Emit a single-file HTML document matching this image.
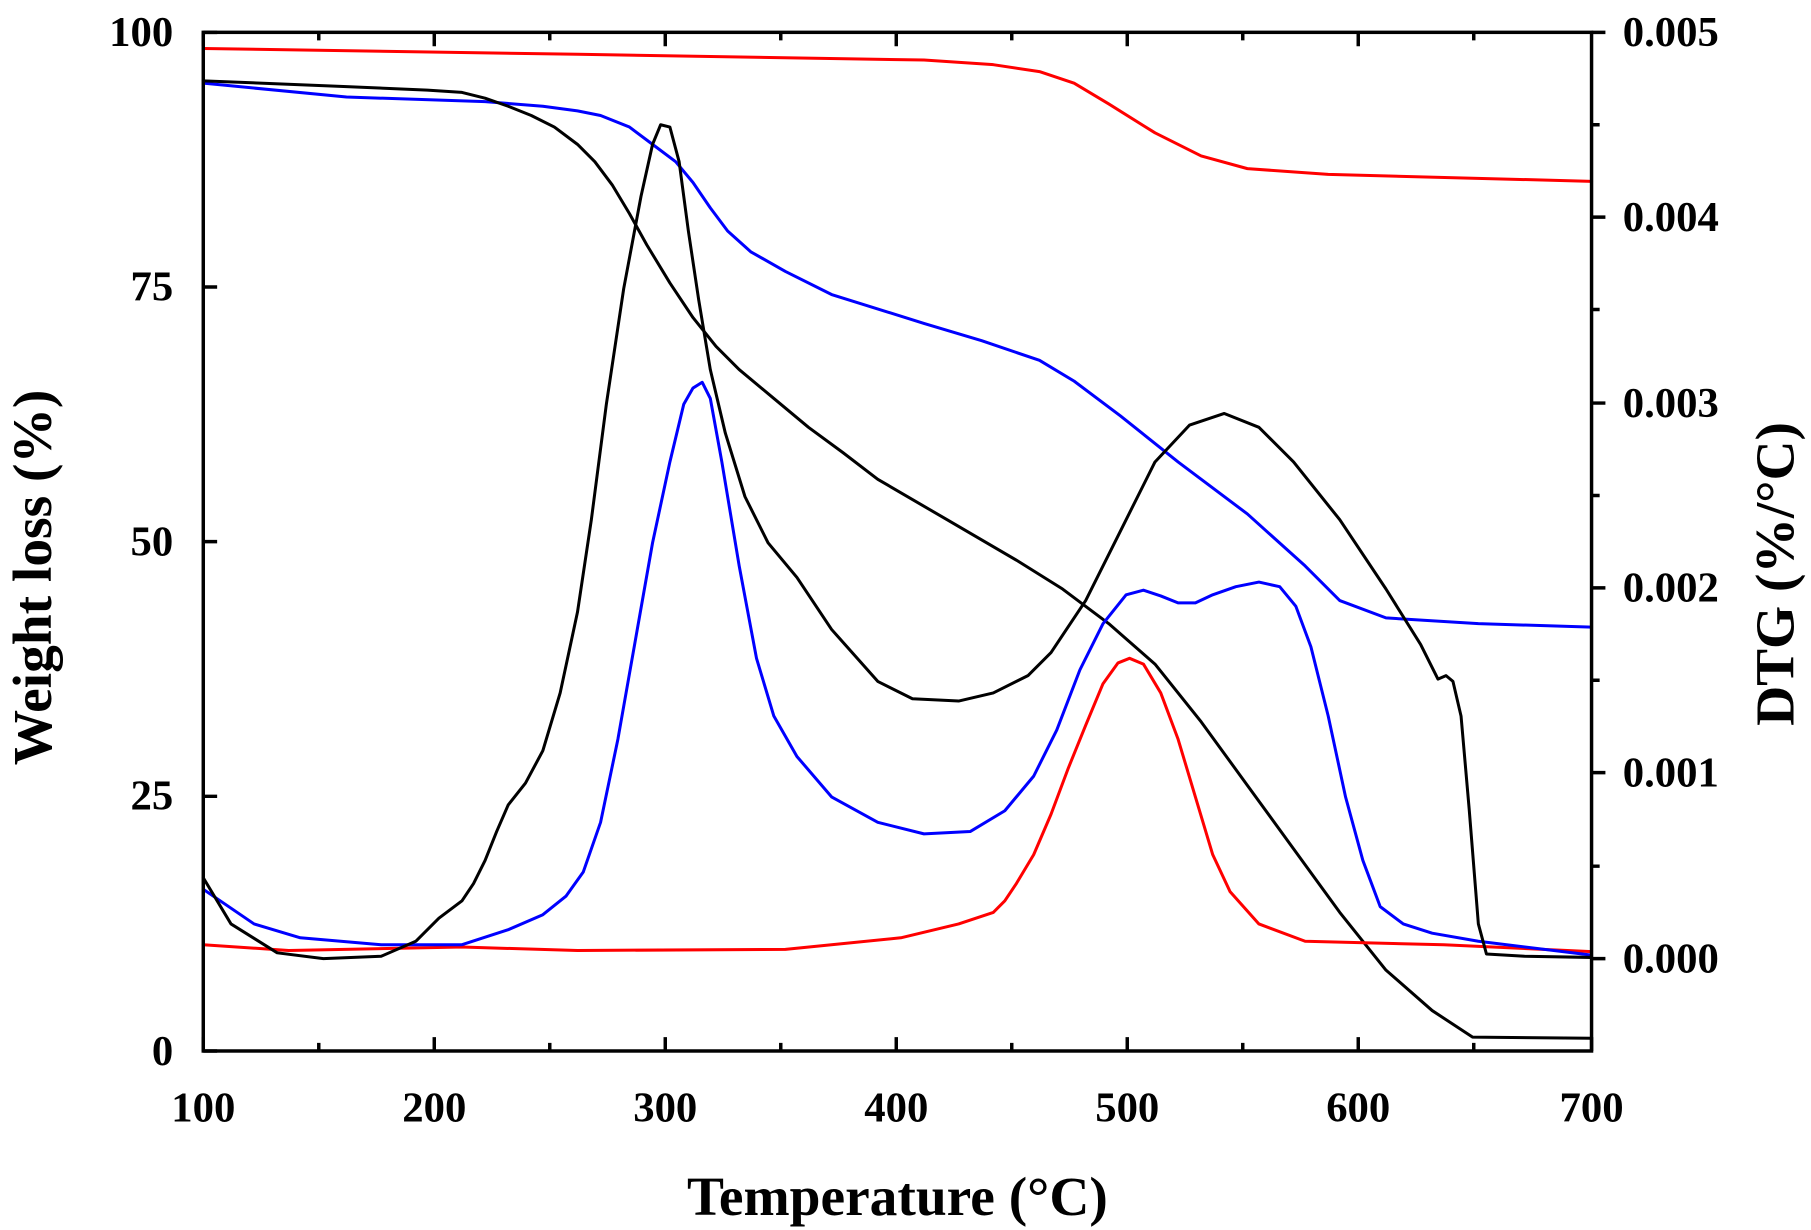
<!DOCTYPE html>
<html><head><meta charset="utf-8"><style>html,body{margin:0;padding:0;background:#fff;}svg{display:block}</style></head>
<body>
<svg width="1811" height="1230" viewBox="0 0 1568 1065" preserveAspectRatio="none" xmlns="http://www.w3.org/2000/svg" font-family="Liberation Serif, serif" font-weight="bold">
<rect x="0" y="0" width="1568" height="1065" fill="#fff"/>
<g fill="none" stroke-width="2.6" stroke-linejoin="round" stroke-linecap="round">
<polyline stroke="#ff0000" points="176,42 500,47 800,52 860,56 900,62 930,72 960,90 1000,115 1040,135 1080,146 1150,151 1378,157"/>
<polyline stroke="#0000ff" points="176,72 300,84 420,88 470,92 500,96 520,100 545,110 565,125 585,140 600,158 615,180 630,200 650,218 680,235 720,255 800,280 850,295 900,312 930,330 970,360 1020,400 1080,445 1130,490 1160,520 1200,535 1280,540 1378,543"/>
<polyline stroke="#000" points="176,70 300,75 370,78 400,80 420,85 440,92 460,100 480,110 500,125 515,140 530,160 545,185 560,212 580,245 600,275 620,300 640,320 670,345 700,370 730,392 760,415 820,450 880,485 920,510 960,540 1000,575 1040,625 1080,680 1120,735 1160,790 1200,840 1240,875 1275,898 1378,899"/>
<polyline stroke="#ff0000" points="176,818 250,823 400,820 500,823 680,822 780,812 830,800 860,790 870,780 880,765 895,740 910,705 925,665 940,628 955,592 968,574 978,570 990,575 1005,600 1020,640 1035,690 1050,740 1065,772 1090,800 1130,815 1250,818 1378,824"/>
<polyline stroke="#0000ff" points="176,770 220,800 260,812 330,818 400,818 440,805 470,792 490,776 505,755 520,712 535,640 550,555 565,470 580,400 592,350 600,336 608,331 615,345 625,400 640,490 655,570 670,620 690,655 720,690 760,712 800,722 840,720 870,702 895,672 915,632 935,580 955,540 975,515 990,511 1005,516 1020,522 1035,522 1050,515 1070,508 1090,504 1108,508 1122,525 1135,560 1150,620 1165,690 1180,745 1195,785 1215,800 1240,808 1280,815 1378,827"/>
<polyline stroke="#000" points="176,760 200,800 240,825 280,830 330,828 360,815 380,795 400,780 410,765 420,745 430,720 440,697 455,678 470,650 485,600 500,530 512,450 525,350 540,250 555,170 565,125 572,108 580,110 588,140 596,200 605,260 615,320 628,375 645,430 665,470 690,500 720,545 760,590 790,605 830,607 860,600 890,585 910,565 940,520 970,460 1000,400 1030,368 1060,358 1090,370 1120,400 1160,450 1200,510 1230,558 1245,588 1252,585 1258,590 1265,620 1272,700 1280,800 1287,826 1320,828 1378,829"/>
</g>
<g stroke="#000" stroke-width="3" fill="none">
<rect x="176" y="28" width="1202" height="882"/>
<path d="M176,910v-12M276,910v-7M376,910v-12M476,910v-7M576,910v-12M676,910v-7M776,910v-12M876,910v-7M976,910v-12M1076,910v-7M1176,910v-12M1276,910v-7M1378,910v-12
M176,28v12M276,28v7M376,28v12M476,28v7M576,28v12M676,28v7M776,28v12M876,28v7M976,28v12M1076,28v7M1176,28v12M1276,28v7
M176,910h12M176,689.5h12M176,469h12M176,248.5h12M176,28h12
M1378,28h12M1378,108h7M1378,188h12M1378,268h7M1378,349h12M1378,429h7M1378,509h12M1378,589h7M1378,669h12M1378,750h7M1378,830h12"/>
</g>
<g font-size="37" fill="#000">
<g text-anchor="middle">
<text x="176" y="971">100</text><text x="376" y="971">200</text><text x="576" y="971">300</text><text x="776" y="971">400</text><text x="976" y="971">500</text><text x="1176" y="971">600</text><text x="1378" y="971">700</text>
</g>
<g text-anchor="end">
<text x="150" y="922">0</text><text x="150" y="701">25</text><text x="150" y="481">50</text><text x="150" y="260">75</text><text x="150" y="40">100</text>
</g>
<text x="1405" y="40">0.005</text><text x="1405" y="200">0.004</text><text x="1405" y="361">0.003</text><text x="1405" y="521">0.002</text><text x="1405" y="681">0.001</text><text x="1405" y="842">0.000</text>
</g>
<text x="777" y="1052" font-size="48" text-anchor="middle">Temperature (°C)</text>
<text transform="translate(44,500) rotate(-90)" font-size="48" text-anchor="middle">Weight loss (%)</text>
<text transform="translate(1553,497) rotate(-90)" font-size="48" text-anchor="middle">DTG (%/°C)</text>
</svg>
</body></html>
